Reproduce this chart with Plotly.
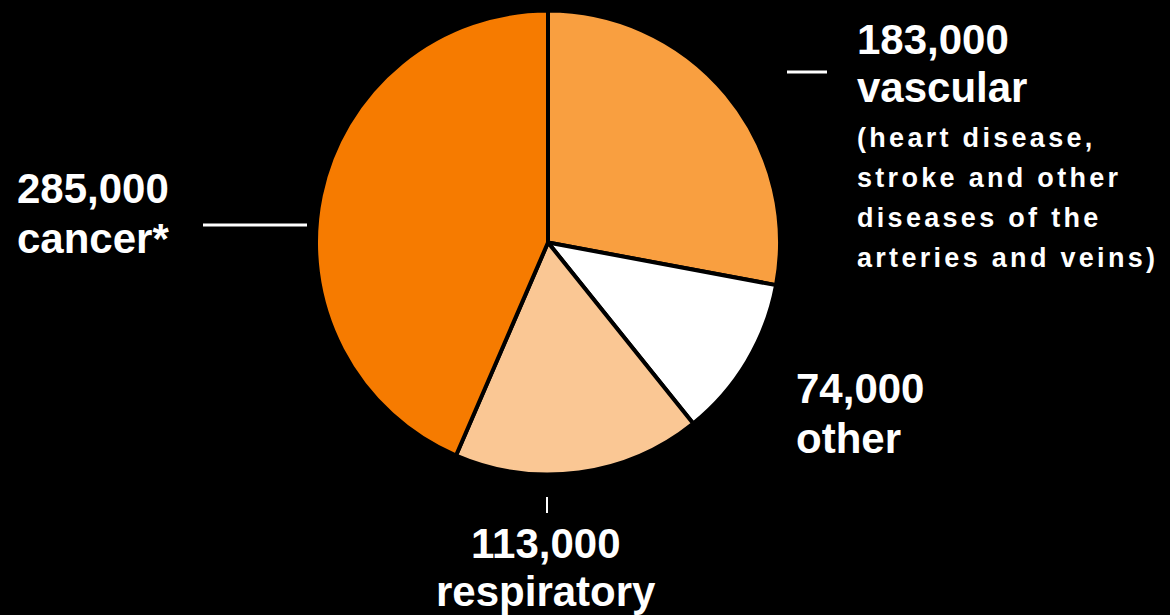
import plotly.graph_objects as go

# ---- data ----
categories = ["vascular", "other", "respiratory", "cancer"]
values = [183000, 74000, 113000, 285000]
value_labels = ["183,000", "74,000", "113,000", "285,000"]
category_labels = ["vascular", "other", "respiratory", "cancer*"]
vascular_note = ["(heart disease,", "stroke and other", "diseases of the", "arteries and veins)"]
colors = ["#F99F40", "#FFFFFF", "#FAC794", "#F67B00"]

W, H = 1170, 615
cx, cy, r = 548, 242.5, 232


def px(x):
    return x / W


def py(y):
    return 1 - y / H


fig = go.Figure()
fig.add_trace(go.Pie(
    labels=categories,
    values=values,
    sort=False,
    direction="clockwise",
    rotation=0,
    marker=dict(colors=colors, line=dict(color="#000000", width=4)),
    textinfo="none",
    hoverinfo="label+value",
    showlegend=False,
    domain=dict(x=[px(cx - r), px(cx + r)], y=[py(cy + r), py(cy - r)]),
))

BIG = 42
SMALL = 27
font_big = dict(family="Liberation Sans, Arial, sans-serif", size=BIG, color="white", weight="bold")
font_small = dict(family="Liberation Sans, Arial, sans-serif", size=SMALL, color="white", weight="bold")


def add_text(text, x, baseline, font, xanchor="left"):
    fig.add_annotation(
        text=text, x=px(x), y=py(baseline - 0.35 * font["size"]),
        xref="paper", yref="paper", xanchor=xanchor, yanchor="middle",
        showarrow=False, font=font, align="left" if xanchor == "left" else "center",
    )


# cancer
add_text(value_labels[3], 15, 203, font_big)
add_text(category_labels[3], 15, 253, font_big)
# vascular
add_text(value_labels[0], 855, 54, font_big)
add_text(category_labels[0], 855, 102, font_big)
for i, line in enumerate(vascular_note):
    add_text(line, 855, 147 + 40 * i, font_small)
# other
add_text(value_labels[1], 794, 403, font_big)
add_text(category_labels[1], 794, 453, font_big)
# respiratory
add_text(value_labels[2], 546, 558, font_big, xanchor="center")
add_text(category_labels[2], 546, 606, font_big, xanchor="center")

# leader lines
line_style = dict(color="white", width=3)
fig.add_shape(type="line", xref="paper", yref="paper",
              x0=px(203), x1=px(307), y0=py(225), y1=py(225), line=line_style)
fig.add_shape(type="line", xref="paper", yref="paper",
              x0=px(787), x1=px(827), y0=py(72), y1=py(72), line=line_style)
fig.add_shape(type="line", xref="paper", yref="paper",
              x0=px(547), x1=px(547), y0=py(497), y1=py(513), line=dict(color="white", width=2))

fig.update_layout(
    width=W, height=H,
    margin=dict(l=0, r=0, t=0, b=0),
    paper_bgcolor="#000000",
    plot_bgcolor="#000000",
)

post = """
document.body.style.margin = '0';
document.body.style.background = '#000';
var small = %s;
document.querySelectorAll('text.annotation-text').forEach(function(t){
  if (small.indexOf(t.textContent) >= 0) { t.style.letterSpacing = '3.3px'; }
});
""" % str(vascular_note).replace("'", '"')

fig.write_html("out.html", post_script=post, config={"displayModeBar": False})
